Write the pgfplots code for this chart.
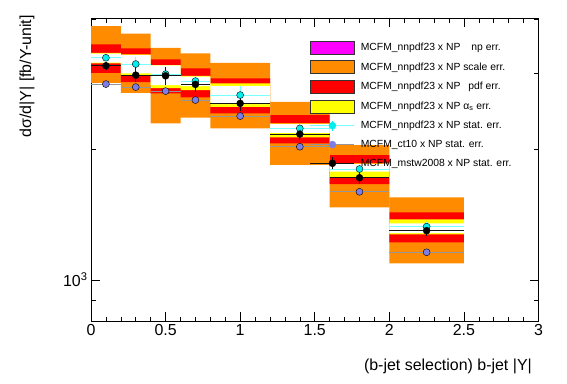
\documentclass[border=0pt]{standalone}
\usepackage{fontspec}
\setmainfont{Liberation Sans}
\usepackage{pgfplots}
\pgfplotsset{compat=1.18}
\usepackage{pgfplotstable}
\usepgfplotslibrary{fillbetween}
\definecolor{rorange}{RGB}{255,140,0}
\definecolor{rred}{RGB}{255,0,0}
\definecolor{ryellow}{RGB}{255,255,0}
\definecolor{rmagenta}{RGB}{255,0,255}
\definecolor{rcyan}{RGB}{0,238,238}
\definecolor{rcyanline}{RGB}{120,255,255}
\definecolor{rpurple}{RGB}{125,125,230}
\definecolor{rgray}{RGB}{150,150,150}
\definecolor{rblack}{RGB}{20,20,20}

% bin left edge, band upper/lower values (last row repeats the last bin)
\pgfplotstableread{
x   oT   oB   rT   rB   yT   yB   wT   wB
0.0 3861 2856 3503 3011 3349 3166 3335 3179
0.2 3710 2707 3428 2866 3321 2974 3308 3001
0.4 3439 2301 3234 2699 3137 2776 3133 2820
0.6 3339 2371 3083 2642 2963 2747 2951 2805
0.8 3176 2240 2923 2427 2846 2513 2805 2550
1.2 2581 1844 2405 2069 2301 2136 2293 2189
1.6 2050 1472 1944 1666 1860 1727 1853 1779
2.0 1552 1093 1433 1222 1381 1275 1352 1284
2.5 1552 1093 1433 1222 1381 1275 1352 1284
}\bands

\pgfplotstableread{
x    ex   cy   cey  py   pey  by   bey
0.1  0.1  3262 50   2836 28   3126 66
0.3  0.1  3155 115  2791 28   2974 113
0.5  0.1  2990 90   2732 27   2963 145
0.7  0.1  2881 60   2605 26   2831 105
1.0  0.2  2675 125  2392 24   2559 95
1.4  0.2  2240 50   2032 20   2174 70
1.8  0.2  1805 40   1599 16   1723 55
2.25 0.25 1328 30   1159 12   1300 35
}\points

\begin{document}
\begin{tikzpicture}
\begin{axis}[
  scale only axis, width=447.5bp, height=302.5bp,
  xmin=0, xmax=3, ymode=log, ymin=804, ymax=4020,
  xtick={0,0.5,1,1.5,2,2.5,3}, minor x tick num=4,
  ytick={1000}, yticklabels={10\textsuperscript{3}},
  minor ytick={900,2000,3000,4000},
  major tick length=9bp, minor tick length=4.5bp,
  tick style={black, line width=0.6pt},
  axis line style={line width=0.8pt},
  /pgf/number format/assume math mode=true,
  ticklabel style={font=\fontsize{16}{16}\selectfont},
  clip=false,
  legend style={at={(rel axis cs:0.489,0.927)}, anchor=north west, draw=none, fill=none,
    font=\fontsize{10.4}{12}\selectfont, row sep=6bp, column sep=4bp, inner sep=0pt,
    nodes={inner sep=2bp}},
  legend cell align=left,
]
\addlegendimage{legend image code/.code={\draw[fill=rmagenta, draw=black!80, line width=0.6pt] (0bp,-6.5bp) rectangle (44bp,6.5bp);}}
\addlegendimage{legend image code/.code={\draw[fill=rorange, draw=black!80, line width=0.6pt] (0bp,-6.5bp) rectangle (44bp,6.5bp);}}
\addlegendimage{legend image code/.code={\draw[fill=rred, draw=black!80, line width=0.6pt] (0bp,-6.5bp) rectangle (44bp,6.5bp);}}
\addlegendimage{legend image code/.code={\draw[fill=ryellow, draw=black!80, line width=0.6pt] (0bp,-6.5bp) rectangle (44bp,6.5bp);}}
\addlegendimage{legend image code/.code={\draw[rcyanline, line width=0.8pt] (0bp,0bp) -- (44bp,0bp); \draw[rcyan, line width=0.8pt] (22bp,-5bp) -- (22bp,5bp); \fill[rcyan] (22bp,0bp) circle (3.5bp);}}
\addlegendimage{legend image code/.code={\draw[rgray, line width=0.8pt] (0bp,0bp) -- (44bp,0bp); \fill[rpurple] (22bp,0bp) circle (3.5bp);}}
\addlegendimage{legend image code/.code={\draw[rblack, line width=0.8pt] (0bp,0bp) -- (44bp,0bp); \draw[rblack, line width=0.8pt] (22bp,-6bp) -- (22bp,6bp); \fill[black] (22bp,0bp) circle (3.5bp);}}
\legend{MCFM\_nnpdf23 x NP\hspace{11bp}np err., MCFM\_nnpdf23 x NP scale err., MCFM\_nnpdf23 x NP\hspace{8bp}pdf err., MCFM\_nnpdf23 x NP α\textsubscript{s} err., MCFM\_nnpdf23 x NP stat. err., MCFM\_ct10 x NP stat. err., MCFM\_mstw2008 x NP stat. err.}

% bands
\addplot[const plot, draw=none, name path=oT, forget plot] table[x=x,y=oT]{\bands};
\addplot[const plot, draw=none, name path=oB, forget plot] table[x=x,y=oB]{\bands};
\addplot[fill=rorange, draw=none, forget plot] fill between[of=oT and oB];
\addplot[const plot, draw=none, name path=rT, forget plot] table[x=x,y=rT]{\bands};
\addplot[const plot, draw=none, name path=rB, forget plot] table[x=x,y=rB]{\bands};
\addplot[fill=rred, draw=none, forget plot] fill between[of=rT and rB];
\addplot[const plot, draw=none, name path=yT, forget plot] table[x=x,y=yT]{\bands};
\addplot[const plot, draw=none, name path=yB, forget plot] table[x=x,y=yB]{\bands};
\addplot[fill=ryellow, draw=none, forget plot] fill between[of=yT and yB];
\addplot[const plot, draw=none, name path=wT, forget plot] table[x=x,y=wT]{\bands};
\addplot[const plot, draw=none, name path=wB, forget plot] table[x=x,y=wB]{\bands};
\addplot[fill=white, draw=none, forget plot] fill between[of=wT and wB];

% points
\addplot[only marks, mark=*, mark size=3.5bp, mark options={draw=none, fill=rpurple}, forget plot,
  error bars/.cd, x dir=both, x explicit, y dir=both, y explicit, error mark=none,
  error bar style={rgray, line width=0.8pt}]
  table[x=x, y=py, x error=ex, y error=pey]{\points};
\addplot[only marks, mark=*, mark size=3.5bp, mark options={draw=none, fill=rcyan}, forget plot,
  error bars/.cd, x dir=both, x explicit, y dir=both, y explicit, error mark=none,
  error bar style={rcyanline, line width=0.8pt}]
  table[x=x, y=cy, x error=ex, y error=cey]{\points};
\addplot[only marks, mark=*, mark size=3.5bp, mark options={draw=none, fill=black}, forget plot,
  error bars/.cd, x dir=both, x explicit, y dir=both, y explicit, error mark=none,
  error bar style={rblack, line width=0.8pt}]
  table[x=x, y=by, x error=ex, y error=bey]{\points};

\node[anchor=east, inner sep=0pt, font=\fontsize{16}{16}\selectfont] at (rel axis cs:1,0) [xshift=-6.5bp, yshift=-45.5bp] {(b-jet selection) b-jet |Y|};
\node[xshift=-64bp, yshift=3.5bp, rotate=90, anchor=east, inner sep=0pt, font=\fontsize{16}{16}\selectfont] at (rel axis cs:0,1) {dσ/d|Y| [fb/Y-unit]};
\end{axis}
\pgfresetboundingbox
\path[use as bounding box] (-91bp,-63bp) rectangle (476bp,321bp);
\end{tikzpicture}
\end{document}
